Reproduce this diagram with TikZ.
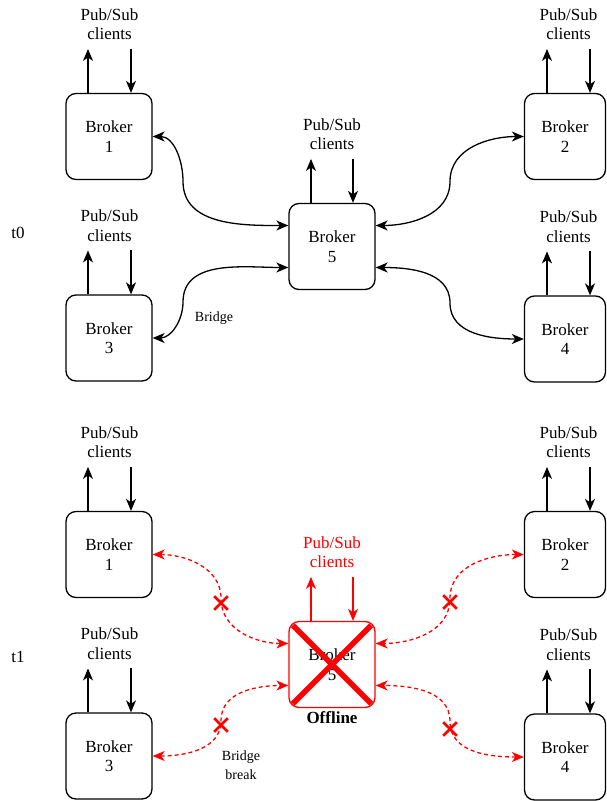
\documentclass[tikz,border=0pt]{standalone}
\usepackage{fontspec}
\setmainfont{Liberation Serif}
\usetikzlibrary{arrows.meta}
\usetikzlibrary{shapes.misc}

\begin{document}
\begin{tikzpicture}[x = 1pt, y = -1pt, font = \fontsize{17}{19.5}\selectfont,
    broker/.style = {draw, rounded corners = 10pt, line width = 1.3pt, minimum width = 86pt, minimum height = 86pt, align = center, inner sep = 0pt},
    clients/.style = {align = center, inner xsep = 0pt, inner ysep = 9pt},
    flow/.style = {line width = 1.3pt, -{Stealth[length = 12pt, width = 10pt, inset = 3.5pt]}},
    bridge/.style = {line width = 1.3pt, {Stealth[length = 12pt, width = 10pt, inset = 3.5pt]}-{Stealth[length = 12pt, width = 10pt, inset = 3.5pt]}},
    broken/.style = {bridge, red, dash pattern = on 4pt off 3pt},
    xmark/.style = {cross out, draw = red, line width = 2.7pt, minimum size = 11pt, inner sep = 0pt},
    small/.style = {font = \fontsize{14}{19}\selectfont, align = center}]
    \useasboundingbox (0, 0) rectangle (607, 801);
    \node (t0) at (18, 233) {t0};
    \node [broker] (b1) at (109, 136.5) {Broker\\1};
    \node [broker, minimum width = 81pt] (b2) at (565, 136.5) {Broker\\2};
    \node [broker] (b3) at (109, 338) {Broker\\3};
    \node [broker, minimum width = 81pt] (b4) at (565, 339) {Broker\\4};
    \node [broker] (b5) at (332, 246.5) {Broker\\5};
    \node [clients] (c1) at (109.5, 24) {Pub/Sub\\clients};
    \node [clients] (c2) at (568.5, 24) {Pub/Sub\\clients};
    \node [clients] (c3) at (109.5, 225.5) {Pub/Sub\\clients};
    \node [clients] (c4) at (568.5, 226.5) {Pub/Sub\\clients};
    \node [clients] (c5) at (332, 134) {Pub/Sub\\clients};
    \draw [bridge] (b1.east) to [out = 0, in = 90] (183, 181.5) to [out = -90, in = 180] ([yshift = 21pt] b5.west);
    \draw [bridge] (b3.east) to [out = 0, in = -90] (183, 302) to [out = 90, in = 180] ([yshift = -21pt] b5.west);
    \draw [bridge] (b2.west) to [out = 180, in = 90] (450, 181.5) to [out = -90, in = 0] ([yshift = 21pt] b5.east);
    \draw [bridge] (b4.west) to [out = 180, in = -90] (450, 303) to [out = 90, in = 0] ([yshift = -21pt] b5.east);
    \node [small] (lb) at (214, 318) {Bridge};

    \node (t1) at (18, 657) {t1};
    \node [broker] (bf1) at (109, 554.5) {Broker\\1};
    \node [broker, minimum width = 81pt] (bf2) at (565, 554.5) {Broker\\2};
    \node [broker] (bf3) at (109, 756) {Broker\\3};
    \node [broker, minimum width = 81pt] (bf4) at (565, 757) {Broker\\4};
    \node [broker, draw = red] (bf5) at (332, 664.5) {Broker\\5};
    \node [clients] (cf1) at (109.5, 442) {Pub/Sub\\clients};
    \node [clients] (cf2) at (568.5, 442) {Pub/Sub\\clients};
    \node [clients] (cf3) at (109.5, 643.5) {Pub/Sub\\clients};
    \node [clients] (cf4) at (568.5, 644.5) {Pub/Sub\\clients};
    \node [clients, red] (cf5) at (332, 552) {Pub/Sub\\clients};
    \draw [broken] (bf1.east) to [out = 0, in = 90] (221, 598.5) to [out = -90, in = 180] ([yshift = 21pt] bf5.west);
    \draw [broken] (bf3.east) to [out = 0, in = -90] (221, 720.5) to [out = 90, in = 180] ([yshift = -21pt] bf5.west);
    \draw [broken] (bf2.west) to [out = 180, in = 90] (450, 598.5) to [out = -90, in = 0] ([yshift = 21pt] bf5.east);
    \draw [broken] (bf4.west) to [out = 180, in = -90] (450, 721.5) to [out = 90, in = 0] ([yshift = -21pt] bf5.east);
    \node [xmark] (x1) at (221, 603) {};
    \node [xmark] (x2) at (450, 602) {};
    \node [xmark] (x3) at (221, 725) {};
    \node [xmark] (x4) at (450, 729) {};
    \node [cross out, draw = red, line width = 5.5pt, minimum size = 73pt, inner sep = 0pt] (off) at (bf5) {};
    \node [font = \fontsize{17}{19.5}\selectfont\bfseries] (lo) at (332, 718) {Offline};
    \node [small] (lbb) at (241, 765) {Bridge\\break};

    \foreach \b/\c/\l/\r in {b1/c1/-21/22, b2/c2/-18/25, b3/c3/-21/22, b4/c4/-18/25, b5/c5/-21/21, bf1/cf1/-21/22, bf2/cf2/-18/25, bf3/cf3/-21/22, bf4/cf4/-18/25} {
        \draw [flow] ([xshift = \l pt] \b.north) -- ([xshift = \l pt] \b.north |- \c.south);
        \draw [flow] ([xshift = \r pt] \b.north |- \c.south) -- ([xshift = \r pt] \b.north);
    }
    \draw [flow, red] ([xshift = -21pt] bf5.north) -- ([xshift = -21pt] bf5.north |- cf5.south);
    \draw [flow, red] ([xshift = 21pt] bf5.north |- cf5.south) -- ([xshift = 21pt] bf5.north);
\end{tikzpicture}
\end{document}
